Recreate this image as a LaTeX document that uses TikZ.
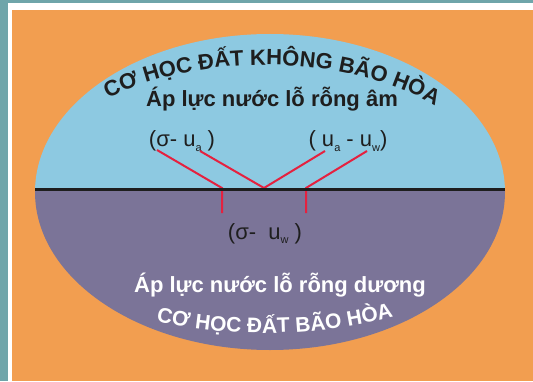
\documentclass[tikz,border=0pt]{standalone}
\usepackage{fontspec}
\setmainfont{Liberation Sans}
\usetikzlibrary{decorations.text}
\definecolor{TEAL}{HTML}{6FA5AA}
\definecolor{ORANGE}{HTML}{F29E50}
\definecolor{SKY}{HTML}{8DC9E1}
\definecolor{PURPLE}{HTML}{7B7498}
\definecolor{INK}{HTML}{1E1E1E}
\definecolor{RED}{HTML}{E5213F}
\newcommand{\idx}[1]{\raisebox{-0.4ex}{\fontsize{11}{11}\selectfont #1}}

\begin{document}
\begin{tikzpicture}[x=1pt,y=1pt]
\tikzset{big/.style={font=\fontsize{22}{26}\selectfont\bfseries,anchor=base,inner sep=0pt},
 par/.style={font=\fontsize{22}{26}\selectfont,text=INK,anchor=base,inner sep=0pt},
 wire/.style={RED,line width=2pt}}
\useasboundingbox (0,0) rectangle (533,381);
% frame: orange card on a teal page
\fill[ORANGE] (0,0) rectangle (533,381);
\fill[white] (0,0) rectangle (12,381);
\fill[white] (0,371) rectangle (533,381);
\fill[TEAL] (0,0) rectangle (8,381);
\fill[TEAL] (0,378) rectangle (533,381);
% the two halves
\begin{scope}
\clip (270,189) ellipse[x radius=235,y radius=158];
\fill[SKY] (30,192) rectangle (510,350);
\fill[PURPLE] (30,192) rectangle (510,28);
\end{scope}
% curved titles
\path[decorate,decoration={text along path,text align=center,
 text={|\fontsize{22}{22}\selectfont\bfseries\color{INK}|CƠ HỌC ĐẤT KHÔNG BÃO HÒA}}]
 (265,189) ++(140:232 and 127) arc[start angle=140,end angle=35,x radius=232,y radius=127];
\path[decorate,decoration={text along path,text align=center,
 text={|\fontsize{21}{21}\selectfont\bfseries\color{white}|CƠ HỌC ĐẤT BÃO HÒA}}]
 (265,189) ++(235:274 and 141) arc[start angle=235,end angle=310,x radius=274,y radius=141];
% labels
\node[big,text=INK] (neg) at (272,274) {Áp lực nước lỗ rỗng âm};
\node[par] (sa) at (182,234) {(σ- u\idx{a} )};
\node[par] (aw) at (348,234) {( u\idx{a} - u\idx{w})};
\node[par] (sw) at (265,142) {(σ-\ \ u\idx{w} )};
\node[big,text=white] (pos) at (280,89) {Áp lực nước lỗ rỗng dương};
% red links
\coordinate (a1) at (157,231); \coordinate (a2) at (222,193); \coordinate (a3) at (222,168);
\coordinate (b1) at (200,230); \coordinate (b2) at (264,193); \coordinate (b3) at (325,230);
\coordinate (c1) at (367,230); \coordinate (c2) at (306,193); \coordinate (c3) at (306,168);
\draw[wire] (a1) -- (a2) -- (a3);
\draw[wire] (b1) -- (b2) -- (b3);
\draw[wire] (c1) -- (c2) -- (c3);
\coordinate (w) at (35,192); \coordinate (e) at (505,192);
\draw[INK,line width=3pt] (w) -- (e);
\end{tikzpicture}
\end{document}
